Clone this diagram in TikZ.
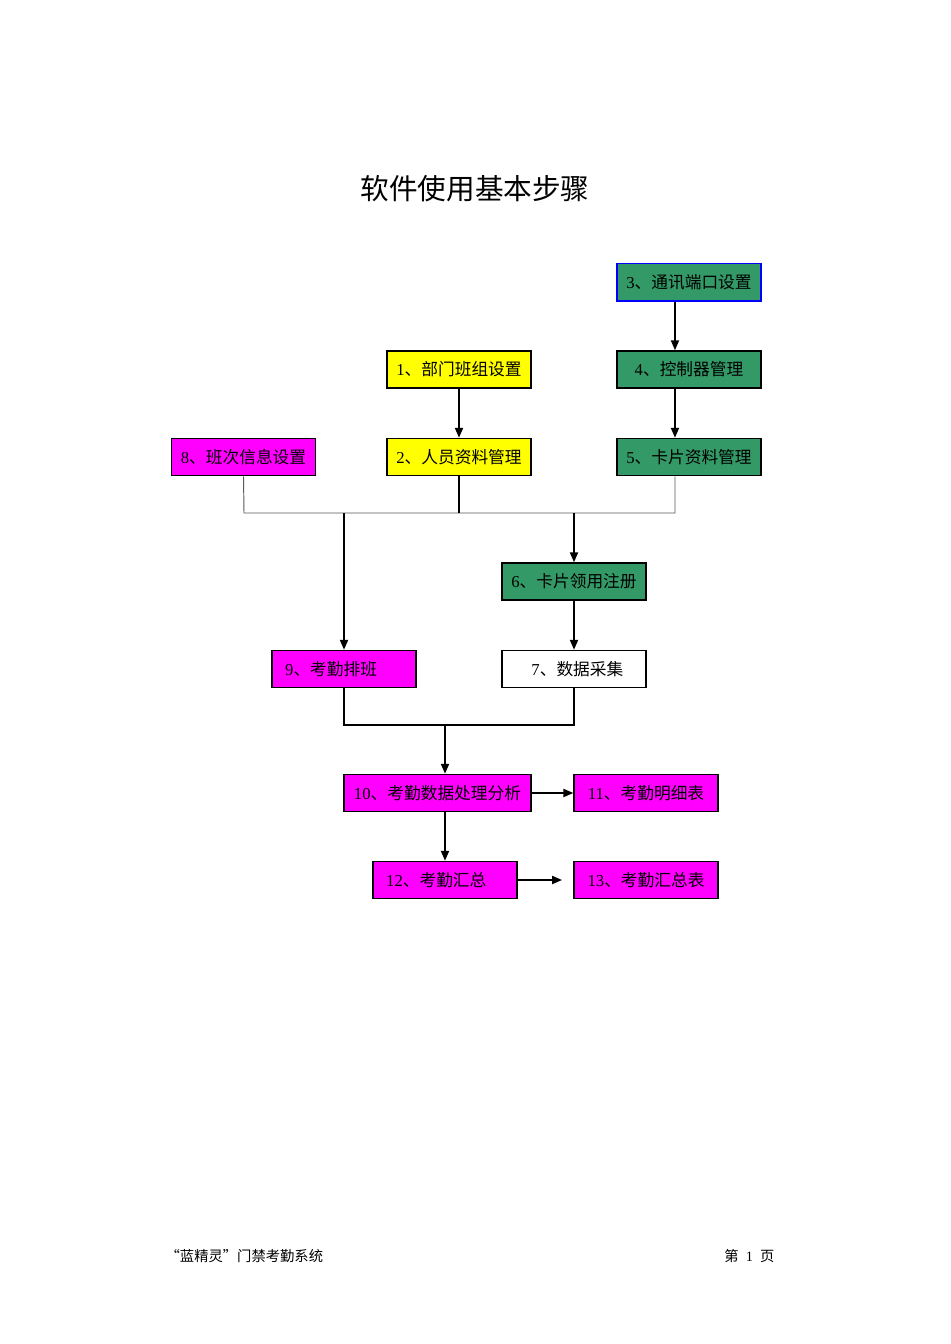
\documentclass[tikz,border=0pt]{standalone}
\usepackage{fontspec}
\setmainfont{Liberation Serif}
\newfontfamily\cjk{Noto Sans CJK SC}
\usepackage{tikz}
\usetikzlibrary{arrows.meta}

\definecolor{stepgreen}{RGB}{51,153,102}
\definecolor{stepyellow}{RGB}{255,255,0}
\definecolor{stepmagenta}{RGB}{255,0,255}

\begin{document}
\begin{tikzpicture}[x=0.0221cm, y=-0.0221cm,
  box/.style={draw=black, line width=0.9pt, minimum width=3.18cm, minimum height=0.82cm,
    inner sep=0pt, font=\fontsize{10.5}{12}\selectfont},
  leftbox/.style={box, text width=2.6cm, align=left},
  green/.style={box, fill=stepgreen},
  yellow/.style={box, fill=stepyellow},
  pink/.style={box, fill=stepmagenta},
  arr/.style={line width=1pt, -{Triangle[length=2.2mm,width=1.8mm]}},
  bus/.style={line width=0.6pt, draw=black!65}]
  \useasboundingbox (0,0) rectangle (950,1344);

  % title
  \node (title) at (475,189) {\cjk\fontsize{18}{20}\selectfont 软件使用基本步骤};

  % boxes
  \node[green, draw=blue, line width=0.7pt] (n3) at (689,282.5) {3\cjk 、通讯端口设置};
  \node[green] (n4) at (689,369.5) {4\cjk 、控制器管理};
  \node[green] (n5) at (689,457) {5\cjk 、卡片资料管理};
  \node[yellow] (n1) at (459,369.5) {1\cjk 、部门班组设置};
  \node[yellow] (n2) at (459,457) {2\cjk 、人员资料管理};
  \node[pink] (n8) at (243.5,457) {8\cjk 、班次信息设置};
  \node[green] (n6) at (574,581.5) {6\cjk 、卡片领用注册};
  \node[box, fill=white] (n7) at (574,669) {\hspace{0.15cm}7\cjk 、数据采集};
  \node[pink, leftbox] (n9) at (344,669) {9\cjk 、考勤排班};
  \node[pink, minimum width=4.13cm] (n10) at (437.5,793) {10\cjk 、考勤数据处理分析};
  \node[pink] (n11) at (646,793) {11\cjk 、考勤明细表};
  \node[pink, leftbox] (n12) at (445,880) {12\cjk 、考勤汇总};
  \node[pink] (n13) at (646,880) {13\cjk 、考勤汇总表};

  % connectors
  \draw[arr] ([xshift=-0.31cm]n3.south) -- ([xshift=-0.31cm]n4.north);
  \draw[arr] ([xshift=-0.31cm]n4.south) -- ([xshift=-0.31cm]n5.north);
  \draw[arr] (n1) -- (n2);

  \coordinate (busL) at (244,513);
  \coordinate (busR) at (675,513);
  \coordinate (busM) at (459,513);
  \draw[bus] (n8.south) -- (busL) -- (busR) -- ([xshift=-0.31cm]n5.south);
  \draw[line width=1pt] (n2.south) -- (busM);
  \draw[arr] (n9.north |- busL) -- (n9.north);
  \draw[arr] (n6.north |- busL) -- (n6.north);
  \draw[arr] (n6) -- (n7);

  \coordinate (join) at (445,725);
  \draw[line width=1pt] (n9.south) |- (join) -| (n7.south);
  \draw[arr] (join) -- (join |- n10.north);
  \draw[arr] (n10) -- (n11);
  \draw[arr] (n12.north |- n10.south) -- (n12.north);
  \draw[arr, shorten >=0.25cm] (n12) -- (n13);

  % footer
  \node[anchor=west, font=\fontsize{9}{10}\selectfont] (foot) at (160,1256) {\cjk “蓝精灵”门禁考勤系统};
  \node[anchor=east, font=\fontsize{9}{10}\selectfont] (page) at (780,1256) {{\cjk 第}\ \ 1\ \ {\cjk 页}};
\end{tikzpicture}
\end{document}
